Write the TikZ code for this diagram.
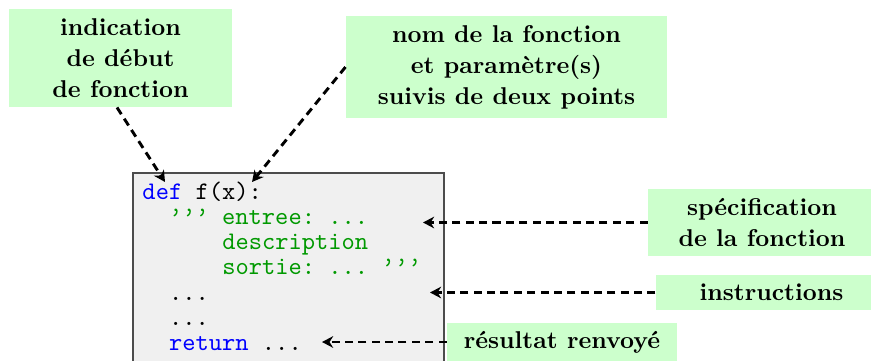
\documentclass[tikz,border=0pt]{standalone}
\usetikzlibrary{arrows.meta,calc}
\definecolor{boxgreen}{RGB}{204,255,204}
\definecolor{codebg}{RGB}{240,240,240}
\definecolor{kw}{RGB}{0,0,255}
\definecolor{strc}{RGB}{0,153,0}
\begin{document}
\begin{tikzpicture}[x=0.4115pt,y=-0.4115pt,
  lbl/.style={fill=boxgreen, align=center, inner sep=0pt,
    font=\bfseries\fontsize{10}{12.75}\selectfont},
  codeline/.style={anchor=base west, inner sep=0pt,
    font=\ttfamily\fontsize{10.4}{12}\selectfont},
  ptr/.style={line width=1.2pt, dash pattern=on 3.3pt off 2.2pt,
    -{Stealth[length=4.6pt,width=4.8pt,inset=1.5pt]}}]
\useasboundingbox (0,0) rectangle (871,360);
\clip (0,0) rectangle (871,360);
% code box
\path[draw=black!70, line width=0.5pt, fill=codebg] (133,173) rectangle (444,380);
% code lines
\node[codeline] (l1) at (142,199) {\textcolor{kw}{def}\ f(x):};
\node[codeline] (l2) at (168.6,224) {\color{strc}\textquoteright\textquoteright\textquoteright\ entree:\ ...};
\node[codeline] (l3) at (221.8,249) {\color{strc}description};
\node[codeline] (l4) at (221.8,274) {\color{strc}sortie:\ ...\ \textquoteright\textquoteright\textquoteright};
\node[codeline] (l5) at (168.6,300) {...};
\node[codeline] (l6) at (168.6,325) {...};
\node[codeline] (l7) at (168.6,350) {\textcolor{kw}{return}\ ...};
% labels
\node[lbl, minimum width=91.8pt, minimum height=40.3pt] (b1) at (120.5,58)
  {indication\\de début\\de fonction};
\node[lbl, minimum width=132.1pt, minimum height=42pt] (b2) at (506.5,67)
  {nom de la fonction\\et paramètre(s)\\suivis de deux points};
\node[lbl, minimum width=93.8pt, minimum height=27.6pt] (b3) at (762,222.5)
  {spécification\\de la fonction};
\node[lbl, minimum width=95.1pt, minimum height=14.4pt] (b4) at (771.5,292.5)
  {instructions};
\node[lbl, minimum width=94.6pt, minimum height=15.6pt] (b5) at (562,342)
  {résultat renvoyé};
% targets
\coordinate (t1) at (165,182);
\coordinate (t2) at (252,182);
\coordinate (t3) at (423,222.5);
\coordinate (t4) at (430,292.5);
\coordinate (t5) at (322,342);
% arrows
\draw[ptr] ($(b1.south)+(-3.5,0)$) -- (t1);
\draw[ptr] (b2.west) -- (t2);
\draw[ptr] (b3.west) -- (t3);
\draw[ptr] (b4.west) -- (t4);
\draw[ptr] (b5.west) -- (t5);
\end{tikzpicture}
\end{document}
